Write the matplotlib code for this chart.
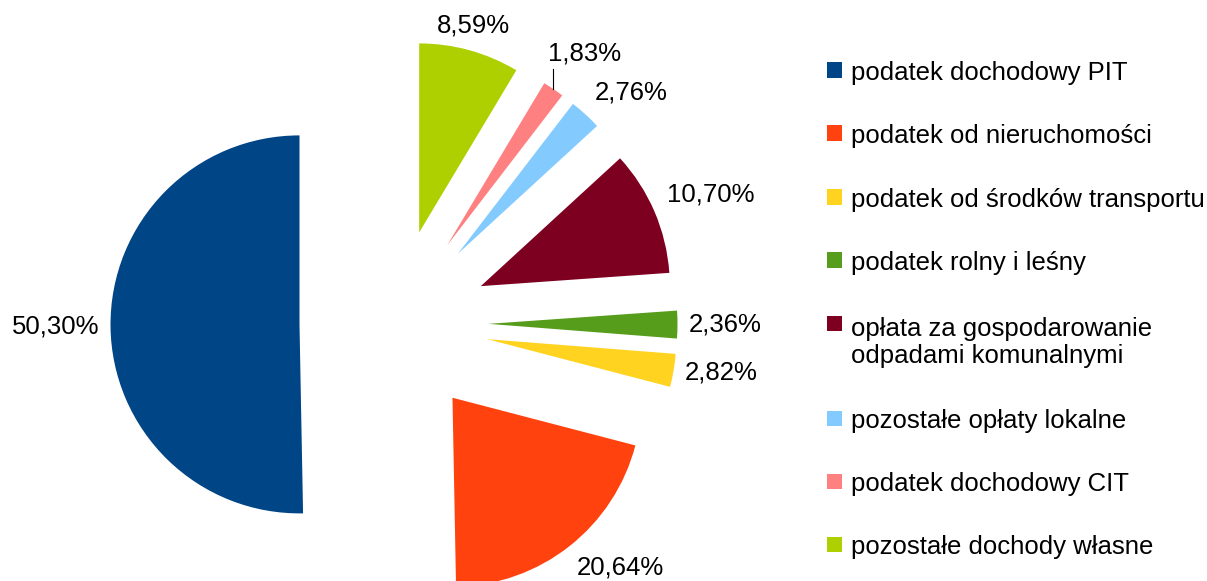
import numpy as np
import matplotlib
matplotlib.use("Agg")
import matplotlib.pyplot as plt
from matplotlib.patches import Rectangle

plt.rcParams['font.family'] = ['Liberation Sans', 'DejaVu Sans']

categories = [
    "podatek dochodowy PIT",
    "podatek od nieruchomości",
    "podatek od środków transportu",
    "podatek rolny i leśny",
    "opłata za gospodarowanie\nodpadami komunalnymi",
    "pozostałe opłaty lokalne",
    "podatek dochodowy CIT",
    "pozostałe dochody własne",
]
values = [50.30, 20.64, 2.82, 2.36, 10.70, 2.76, 1.83, 8.59]
colors = ["#004586", "#ff420e", "#ffd320", "#579d1c", "#7e0021",
          "#83caff", "#ff8080", "#aecf00"]

W, H = 1207, 581
R_PX = 189.0
CX, CY = 394.0, 581 - 323.5
FS = 18.5

fig = plt.figure(figsize=(W / 100, H / 100), dpi=100)
ax = fig.add_axes([0, 0, 1, 1])
wedges, _ = ax.pie(values, explode=[0.5] * len(values), startangle=90,
                   counterclock=True, colors=colors, radius=1.0,
                   wedgeprops=dict(linewidth=0))
ax.set_xlim(-CX / R_PX, (W - CX) / R_PX)
ax.set_ylim(-CY / R_PX, (H - CY) / R_PX)
ax.set_aspect('auto')
ax.axis('off')

px = 1.0 / R_PX
for w, v in zip(wedges, values):
    tm = np.deg2rad((w.theta1 + w.theta2) / 2)
    cx, cy = w.center
    r = w.r
    c, s = np.cos(tm), np.sin(tm)
    lab = f"{v:.2f}".replace('.', ',') + '%'
    if v < 2.0:
        tx, ty = cx + r * c, cy + r * s
        ax.plot([tx, tx], [ty, ty + 20 * px], color='black', lw=0.8)
        ax.text(tx - 5 * px, ty + 29 * px, lab, ha='left', va='baseline',
                fontsize=FS, color='black')
        continue
    d = 1.07 if s > 0.3 else 1.06
    ax_ = cx + d * r * c
    ay_ = cy + d * r * s
    ha = 'left' if c > 0.35 else ('right' if c < -0.35 else 'center')
    va = 'bottom' if s > 0.3 else ('top' if s < -0.3 else 'center')
    ax.text(ax_, ay_, lab, ha=ha, va=va, fontsize=FS, color='black')

# legend (manual)
marker_y = [70, 133, 197, 260, 323, 418, 481, 544]
LINE_PX = 30
for cat, col, my in zip(categories, colors, marker_y):
    fig.patches.append(Rectangle((827 / W, 1 - (my + 7.5) / H), 15 / W, 15 / H,
                                 transform=fig.transFigure, facecolor=col,
                                 edgecolor='none'))
    nlines = cat.count('\n')
    base = my + 10 + nlines * LINE_PX
    fig.text(851 / W, 1 - base / H, cat, ha='left', va='baseline',
             fontsize=FS, color='black', linespacing=1.17)

fig.savefig("out.png", dpi=100)
